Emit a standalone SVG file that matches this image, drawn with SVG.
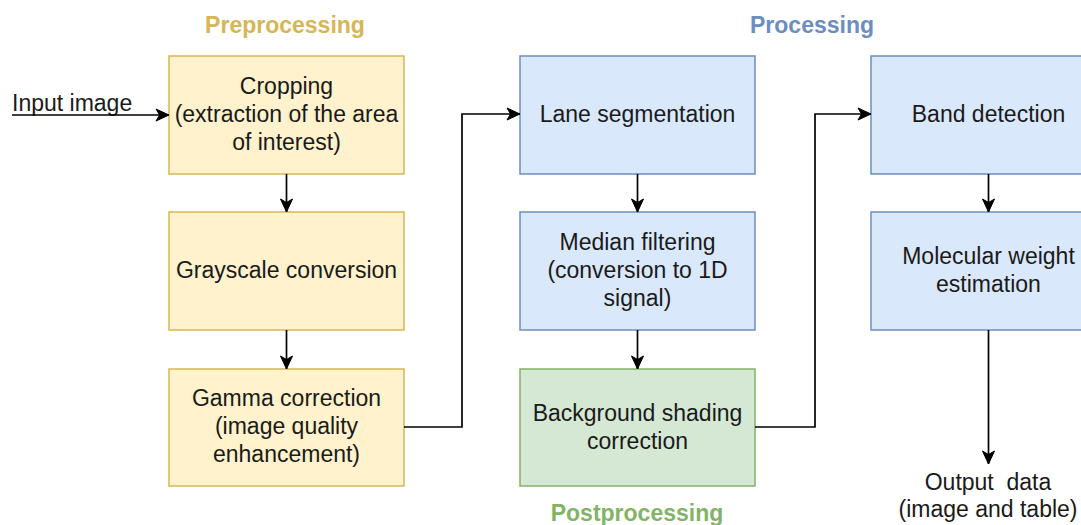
<svg xmlns="http://www.w3.org/2000/svg" width="1081" height="525" viewBox="0 0 1081 525">
  <style>
    .box { stroke-width: 1.5; }
    .pre { fill: #fff2cc; stroke: #d6b656; }
    .proc { fill: #dae8fc; stroke: #6c8ebf; }
    .post { fill: #d5e8d4; stroke: #82b366; }
    text { font-family: "Liberation Sans", Arial, sans-serif; font-size: 23px; fill: #1a1a1a; }
    .c { text-anchor: middle; }
    .head { font-weight: bold; text-anchor: middle; }
    .link { fill: none; stroke: #000; stroke-width: 1.7; marker-end: url(#arrow); }
  </style>
  <defs>
    <marker id="arrow" markerUnits="userSpaceOnUse" markerWidth="16" markerHeight="16" refX="14" refY="8" orient="auto">
      <path d="M1,2 L14,8 L1,14 L4.5,8 Z" fill="#000" stroke="#000" stroke-width="1"/>
    </marker>
  </defs>

  <rect width="1081" height="525" fill="#ffffff"/>

  <!-- stage headings -->
  <text class="head" x="285" y="33" style="fill:#d6b656">Preprocessing</text>
  <text class="head" x="812" y="33" style="fill:#6c8ebf">Processing</text>
  <text class="head" x="637" y="521" style="fill:#82b366">Postprocessing</text>

  <!-- preprocessing column -->
  <g id="cropping">
    <rect class="box pre" x="169" y="56" width="235" height="118"/>
    <text class="c" x="286.5" y="94">Cropping</text>
    <text class="c" x="286.5" y="122">(extraction of the area</text>
    <text class="c" x="286.5" y="150">of interest)</text>
  </g>
  <g id="grayscale">
    <rect class="box pre" x="169" y="212" width="235" height="118"/>
    <text class="c" x="286.5" y="278">Grayscale conversion</text>
  </g>
  <g id="gamma">
    <rect class="box pre" x="169" y="369" width="235" height="117"/>
    <text class="c" x="286.5" y="406">Gamma correction</text>
    <text class="c" x="286.5" y="434">(image quality</text>
    <text class="c" x="286.5" y="462">enhancement)</text>
  </g>

  <!-- processing / postprocessing column -->
  <g id="lane">
    <rect class="box proc" x="520" y="56" width="235" height="118"/>
    <text class="c" x="637.5" y="122">Lane segmentation</text>
  </g>
  <g id="median">
    <rect class="box proc" x="520" y="212" width="235" height="118"/>
    <text class="c" x="637.5" y="250">Median filtering</text>
    <text class="c" x="637.5" y="278">(conversion to 1D</text>
    <text class="c" x="637.5" y="306">signal)</text>
  </g>
  <g id="background">
    <rect class="box post" x="520" y="369" width="235" height="117"/>
    <text class="c" x="637.5" y="421">Background shading</text>
    <text class="c" x="637.5" y="449">correction</text>
  </g>

  <!-- right column -->
  <g id="band">
    <rect class="box proc" x="871" y="56" width="235" height="118"/>
    <text class="c" x="988.5" y="122">Band detection</text>
  </g>
  <g id="weight">
    <rect class="box proc" x="871" y="212" width="235" height="118"/>
    <text class="c" x="988.5" y="264">Molecular weight</text>
    <text class="c" x="988.5" y="292">estimation</text>
  </g>

  <!-- input / output labels -->
  <g id="input">
    <text x="12" y="111">Input image</text>
  </g>
  <g id="output">
    <text class="c" x="988" y="490" xml:space="preserve">Output  data</text>
    <text class="c" x="988" y="517">(image and table)</text>
  </g>

  <!-- connectors -->
  <g id="connectors">
    <path class="link" d="M12,115 H169"/>
    <path class="link" d="M286.5,174 V212"/>
    <path class="link" d="M286.5,330 V369"/>
    <path class="link" d="M404,427 H462 V114 H520"/>
    <path class="link" d="M637.5,174 V212"/>
    <path class="link" d="M637.5,330 V369"/>
    <path class="link" d="M755,427 H815 V114 H871"/>
    <path class="link" d="M988.5,174 V212"/>
    <path class="link" d="M988.5,330 V464"/>
  </g>
</svg>
